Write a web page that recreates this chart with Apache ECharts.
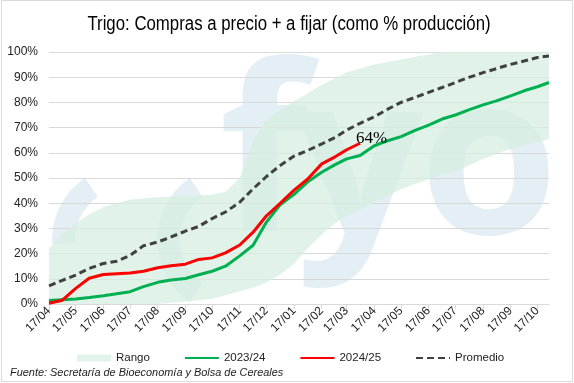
<!DOCTYPE html>
<html>
<head>
<meta charset="utf-8">
<script src="https://cdn.jsdelivr.net/npm/echarts@6/dist/echarts.min.js"></script>
<style>
html,body{margin:0;padding:0;background:#fff;}
#c{width:574px;height:383px;}
</style>
</head>
<body>
<div id="c"></div>
<script>
// ---- data (half-month sampling) ----
const dates = [
 '2024-04-17','2024-05-02','2024-05-17','2024-06-01','2024-06-17','2024-07-02','2024-07-17','2024-08-01',
 '2024-08-17','2024-09-01','2024-09-17','2024-10-02','2024-10-17','2024-11-01','2024-11-17','2024-12-02',
 '2024-12-17','2025-01-01','2025-01-17','2025-02-01','2025-02-17','2025-03-04','2025-03-17','2025-04-01',
 '2025-04-17','2025-05-02','2025-05-17','2025-06-01','2025-06-17','2025-07-02','2025-07-17','2025-08-01',
 '2025-08-17','2025-09-01','2025-09-17','2025-10-02','2025-10-17','2025-10-30'
];
const rangoLow = [0,0,0,0,0,0,0,0,0,0.5, 1,1.5,2,3.5,5,6.5,8.5,11.5,16,22,
 27.5,32,35,37.5,40.5,43,45.5,47.5,49.5,51.5, 52.5,55,57.5,59.5,61.5,63,64.3,65.5];
const rangoHigh = [22,28,32,35.5,38.5,40,41.5,42,42.5,42.5, 43,43,43.5,44.5,50,65,73,77,80.5,83.5,
 87,89.5,92,93.5,95,96,97,98,99,100, 100,100,100,100,100,100,100,100];
const serie2324 = [1.4,1.7,2.0,2.6,3.3,4.1,4.9,6.9,8.6,9.5, 10.1,11.6,13.0,15.0,19.1,23.3,32.5,39.3,43.5,48.4,
 52.3,55.3,57.6,58.9,62.8,64.8,66.4,68.8,71.0,73.4, 75.0,77.0,79.0,80.6,82.6,84.6,86.2,87.9];
const serie2425 = [0.3,1.5,6.2,10.2,11.7,12.0,12.3,13.0,14.4,15.2, 15.8,17.7,18.3,20.3,23.4,28.5,35.0,39.8,45.2,49.5,
 55.6,58.4,61.2,63.8];
const promedio = [7.2,9.4,11.5,14.1,16.1,17.0,19.3,23.1,24.6,26.6, 28.9,30.8,33.9,36.5,40.4,45.7,50.6,54.9,58.7,60.9,
 63.5,66.1,69.0,71.7,74.3,77.3,80.0,81.9,84.0,85.9, 87.9,89.9,91.8,93.4,95.1,96.4,97.8,98.4];
const tickDates = ['2024-04-17','2024-05-17','2024-06-17','2024-07-17','2024-08-17','2024-09-17','2024-10-17',
 '2024-11-17','2024-12-17','2025-01-17','2025-02-17','2025-03-17','2025-04-17','2025-05-17','2025-06-17',
 '2025-07-17','2025-08-17','2025-09-17','2025-10-17'];
const yTicks = [0,10,20,30,40,50,60,70,80,90,100];
const axisStart = '2024-04-17', axisEnd = '2025-10-30';
const titleText = 'Trigo: Compras a precio + a fijar (como % producción)';
const sourceText = 'Fuente: Secretaría de Bioeconomía y Bolsa de Cereales';

const DAY = 86400000;
function toTime(s){const p=s.split('-');return Date.UTC(+p[0],+p[1]-1,+p[2]);}
function toDay(s){return Math.round((toTime(s)-toTime(axisStart))/DAY);}
function pairs(vals){return vals.map((v,i)=>[toDay(dates[i]),v]);}
function pad(n){return (n<10?'0':'')+n;}

const uiFont = "'Liberation Sans',Arial,sans-serif";
const chart = echarts.init(document.getElementById('c'), null, {renderer:'canvas'});
const wmColor = '#e3eff5';
const bandColor = 'rgba(214,238,224,0.72)';
const tickDays = tickDates.map(toDay);
const bandData = dates.map((d,i)=>[toDay(d), rangoLow[i], rangoHigh[i]]);

chart.setOption({
  animation:false,
  backgroundColor:'#ffffff',
  graphic:[
    {type:'rect', z:-2, silent:true, shape:{x:1.5,y:0.5,width:571,height:381}, style:{fill:null, stroke:'#d9d9d9', lineWidth:1}},
    {type:'sector', z:-1, silent:true, shape:{cx:127, cy:240, r:75, r0:52, startAngle:Math.PI*0.98, endAngle:Math.PI*1.31}, style:{fill:wmColor}},
    {type:'sector', z:-1, silent:true, shape:{cx:232, cy:240, r:75, r0:52, startAngle:Math.PI*0.69, endAngle:Math.PI*1.31}, style:{fill:wmColor}},
    {type:'text', z:-1, silent:true, style:{text:'f', x:264, y:166, fill:wmColor, font:"bold 232px 'Open Sans'", textAlign:'center', textVerticalAlign:'middle'}},
    {type:'text', z:-1, silent:true, style:{text:'y', x:360, y:170, fill:wmColor, font:"bold 225px 'Open Sans'", textAlign:'center', textVerticalAlign:'middle'}},
    {type:'text', z:-1, silent:true, style:{text:'o', x:489, y:170, fill:wmColor, font:"bold 225px 'Open Sans'", textAlign:'center', textVerticalAlign:'middle'}},
    {type:'text', silent:true, x:289, y:24, scaleX:0.84, style:{text:titleText, x:0, y:0, fill:'#000', font:"20px "+uiFont, textAlign:'center', textVerticalAlign:'middle'}},
    {type:'text', silent:true, x:10, y:373, scaleX:0.95, style:{text:sourceText, x:0, y:0, fill:'#222', font:"italic 11.5px "+uiFont, textAlign:'left', textVerticalAlign:'middle'}}
  ],
  legend:{left:72, top:347, itemWidth:34, itemHeight:7, itemGap:34,
    itemStyle:{opacity:0},
    textStyle:{fontFamily:uiFont, fontSize:11.5, color:'#222'},
    data:[{name:'Rango', icon:'rect', itemStyle:{color:'#e2f3e9', opacity:1}}, '2023/24', '2024/25', 'Promedio']},
  grid:{left:49, right:25, top:52, bottom:79},
  xAxis:{type:'value', min:0, max:toDay(axisEnd),
    axisLine:{lineStyle:{color:'#d9d9d9', width:1}},
    axisTick:{show:true, length:5, lineStyle:{color:'#d9d9d9'}, customValues:tickDays},
    axisLabel:{customValues:tickDays, rotate:45, margin:5, fontFamily:uiFont, fontSize:12, color:'#222',
      formatter:function(v){const d=new Date(toTime(axisStart)+v*DAY);return pad(d.getUTCDate())+'/'+pad(d.getUTCMonth()+1);}},
    splitLine:{show:false}},
  yAxis:{type:'value', min:yTicks[0], max:yTicks[yTicks.length-1], interval:yTicks[1]-yTicks[0],
    axisLine:{show:false}, axisTick:{show:false},
    axisLabel:{formatter:'{value}%', margin:11, fontFamily:uiFont, fontSize:12, color:'#222'},
    splitLine:{lineStyle:{color:'#d9d9d9', width:1}}},
  series:[
    {name:'Rango', type:'custom', data:bandData, z:1, silent:true, encode:{x:0, y:[1,2]},
      itemStyle:{color:bandColor},
      renderItem:function(params, api){
        if(params.dataIndex!==0) return null;
        const pts=[];
        for(let i=0;i<bandData.length;i++) pts.push(api.coord([bandData[i][0], bandData[i][2]]));
        for(let i=bandData.length-1;i>=0;i--) pts.push(api.coord([bandData[i][0], bandData[i][1]]));
        return {type:'polygon', shape:{points:pts}, style:{fill:bandColor}};
      }},
    {name:'2023/24', type:'line', data:pairs(serie2324), symbol:'none', lineStyle:{color:'#00b050', width:3}, itemStyle:{color:'#00b050'}, z:3},
    {name:'2024/25', type:'line', data:pairs(serie2425), symbol:'none', lineStyle:{color:'#ff0000', width:3}, itemStyle:{color:'#ff0000'}, z:4,
      endLabel:{show:true, distance:0, offset:[-4,-5], color:'#000', fontFamily:"'Liberation Serif','DejaVu Serif',serif", fontSize:17,
        formatter:function(p){return Math.round(p.value[1])+'%';}}},
    {name:'Promedio', type:'line', data:pairs(promedio), symbol:'none', lineStyle:{color:'#404040', width:3, type:[7,4]}, itemStyle:{color:'#404040'}, z:5}
  ]
});
</script>
</body>
</html>
